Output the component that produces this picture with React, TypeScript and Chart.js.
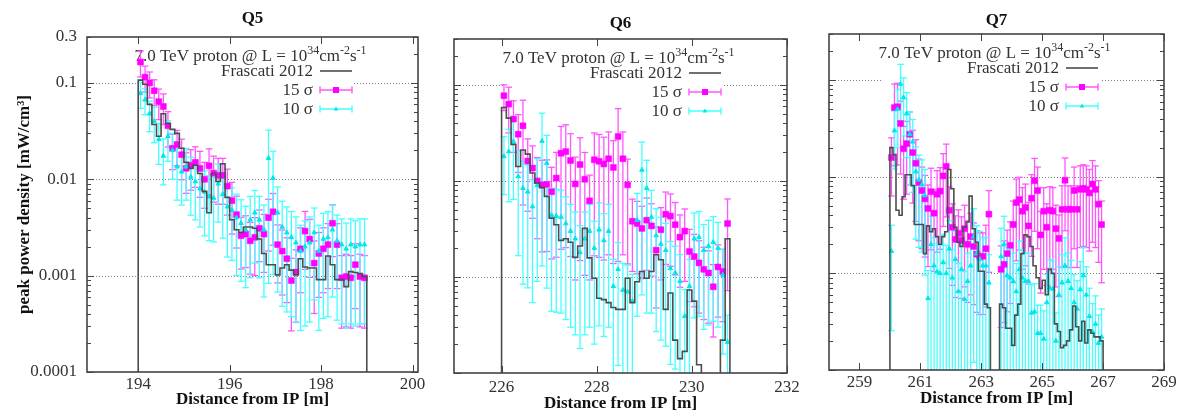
import React, { useEffect, useRef } from "react";
import { Chart, registerables } from "chart.js";

Chart.register(...registerables);

const FONT = '"Liberation Serif", "Times New Roman", serif';
const TEXT_COLOR = "#333";
const FRAME_COLOR = "#444";
const STEP_COLOR = "#4d4d4d";
const MAG = "#ff00ff";
const MAG_BAR = "#ff55ff";
const CYAN = "#00e8e8";
const CYAN_BAR = "#44ffff";
const CANVAS_H = 410;

// ---------- axis ticks ----------
const yTickValues = [0.0001, 0.001, 0.01, 0.1, 0.3];
const yTickLabels = ["0.0001", "0.001", "0.01", "0.1", "0.3"];
const yGridValues = [0.001, 0.01, 0.1];

const q5XTicks = [194, 196, 198, 200];
const q5XTickLabels = ["194", "196", "198", "200"];
const q6XTicks = [226, 228, 230, 232];
const q6XTickLabels = ["226", "228", "230", "232"];
const q7XTicks = [259, 261, 263, 265, 267, 269];
const q7XTickLabels = ["259", "261", "263", "265", "267", "269"];

// ---------- Q5 ----------
const q5Edges = [194.0, 199.0];
const q5X = [194.05, 194.15, 194.25, 194.35, 194.45, 194.55, 194.65, 194.75, 194.85, 194.95, 195.05, 195.15, 195.25, 195.35, 195.45, 195.55, 195.65, 195.75, 195.85, 195.95, 196.05, 196.15, 196.25, 196.35, 196.45, 196.55, 196.65, 196.75, 196.85, 196.95, 197.05, 197.15, 197.25, 197.35, 197.45, 197.55, 197.65, 197.75, 197.85, 197.95, 198.05, 198.15, 198.25, 198.35, 198.45, 198.55, 198.65, 198.75, 198.85, 198.95];
const q5Frascati = [0.107, 0.097, 0.06, 0.037, 0.028, 0.048, 0.038, 0.033, 0.03, 0.021, 0.015, 0.013, 0.014, 0.0115, 0.0075, 0.0045, 0.0115, 0.0095, 0.0145, 0.0065, 0.0038, 0.003, 0.0028, 0.0032, 0.0032, 0.0031, 0.0024, 0.0017, 0.0013, 0.0013, 0.00102, 0.0012, 0.0013, 0.00114, 0.00102, 0.0015, 0.00123, 0.0012, 0.0012, 0.00091, 0.00091, 0.0016, 0.0013, 0.00091, 0.00091, 0.00077, 0.0011, 0.00108, 0.00105, 0.00098];
const q5Sigma15 = [0.165, 0.115, 0.1, 0.083, 0.064, 0.057, 0.036, 0.021, 0.023, 0.018, 0.013, 0.014, 0.015, 0.013, 0.01, 0.0138, 0.0116, 0.011, 0.011, 0.0085, 0.006, 0.0043, 0.0026, 0.0027, 0.0023, 0.0025, 0.0031, 0.0027, 0.004, 0.0046, 0.0021, 0.0018, 0.0015, 0.00089, 0.00109, 0.0019, 0.0029, 0.0024, 0.00135, 0.0017, 0.0019, 0.0021, 0.0035, 0.0021, 0.00095, 0.00098, 0.00095, 0.0013, 0.00098, 0.00095];
const q5Sigma15Err = [0.3, 0.3, 0.3, 0.3, 0.35, 0.35, 0.4, 0.4, 0.4, 0.45, 0.45, 0.45, 0.45, 0.5, 0.5, 0.5, 0.5, 0.5, 0.5, 0.5, 0.55, 0.55, 0.55, 0.55, 0.55, 0.6, 0.55, 0.6, 0.55, 0.55, 0.6, 0.65, 0.65, 0.7, 0.7, 0.65, 0.6, 0.6, 0.7, 0.65, 0.65, 0.65, 0.55, 0.65, 0.7, 0.7, 0.7, 0.65, 0.7, 0.7];
const q5Sigma10 = [0.078, 0.067, 0.048, 0.04, 0.026, 0.0175, 0.028, 0.02, 0.0135, 0.012, 0.0135, 0.0106, 0.0095, 0.008, 0.0074, 0.0066, 0.0064, 0.009, 0.007, 0.0052, 0.0048, 0.004, 0.0035, 0.003, 0.0038, 0.0045, 0.0038, 0.003, 0.0166, 0.0103, 0.0045, 0.0032, 0.0028, 0.0025, 0.0022, 0.0018, 0.002, 0.0022, 0.0028, 0.0018, 0.0024, 0.0025, 0.003, 0.0023, 0.0021, 0.0019, 0.0021, 0.002, 0.0021, 0.0021];
const q5Sigma10Err = [0.3, 0.3, 0.35, 0.4, 0.45, 0.5, 0.45, 0.5, 0.55, 0.55, 0.55, 0.6, 0.6, 0.6, 0.65, 0.65, 0.65, 0.6, 0.65, 0.7, 0.7, 0.75, 0.75, 0.75, 0.75, 0.7, 0.75, 0.8, 0.95, 0.9, 0.85, 0.85, 0.85, 0.85, 0.85, 0.85, 0.85, 0.85, 0.8, 0.85, 0.85, 0.85, 0.8, 0.85, 0.85, 0.85, 0.85, 0.85, 0.85, 0.85];

// ---------- Q6 ----------
const q6Edges = [226.0, 230.8];
const q6X = [226.05, 226.15, 226.25, 226.35, 226.45, 226.55, 226.65, 226.75, 226.85, 226.95, 227.05, 227.15, 227.25, 227.35, 227.45, 227.55, 227.65, 227.75, 227.85, 227.95, 228.05, 228.15, 228.25, 228.35, 228.45, 228.55, 228.65, 228.75, 228.85, 228.95, 229.05, 229.15, 229.25, 229.35, 229.45, 229.55, 229.65, 229.75, 229.85, 229.95, 230.05, 230.15, 230.25, 230.35, 230.45, 230.55, 230.65, 230.75];
const q6Frascati = [0.058, 0.045, 0.024, 0.0141, 0.021, 0.019, 0.0121, 0.0095, 0.0085, 0.0069, 0.0041, 0.0035, 0.0024, 0.0025, 0.0023, 0.0016, 0.0021, 0.0032, 0.00158, 0.00097, 0.0006, 0.00058, 0.00054, 0.00048, 0.00046, 0.00046, 0.00097, 0.00054, 0.00089, 0.00114, 0.00097, 0.00114, 0.0017, 0.00151, 0.00046, 0.00068, 0.00022, 0.000141, 0.000168, 0.00073, 0.00056, 0.000122, 0.00005, 0.00005, 0.00005, 0.00005, 0.00022, 0.0025];
const q6Sigma15 = [0.077, 0.063, 0.044, 0.0306, 0.0374, 0.0161, 0.0136, 0.01, 0.0091, 0.0092, 0.0077, 0.0107, 0.0194, 0.0202, 0.0163, 0.0093, 0.0148, 0.0104, 0.0062, 0.0166, 0.016, 0.015, 0.017, 0.0138, 0.029, 0.017, 0.0091, 0.0038, 0.0036, 0.0032, 0.0039, 0.0034, 0.0019, 0.0031, 0.0045, 0.0043, 0.0035, 0.0026, 0.003, 0.00184, 0.00163, 0.0014, 0.0012, 0.0011, 0.00079, 0.00127, 0.00114, 0.0036];
const q6Sigma15Err = [0.3, 0.5, 0.55, 0.6, 0.85, 0.7, 0.7, 0.75, 0.8, 0.8, 0.8, 0.85, 0.9, 0.9, 0.9, 0.9, 0.9, 0.9, 0.85, 0.9, 0.9, 0.9, 0.9, 0.9, 0.95, 0.9, 0.85, 0.7, 0.7, 0.7, 0.7, 0.7, 0.75, 0.7, 0.7, 0.7, 0.7, 0.7, 0.7, 0.7, 0.7, 0.7, 0.7, 0.7, 0.7, 0.7, 0.7, 0.8];
const q6Sigma10 = [0.018, 0.0202, 0.0257, 0.0111, 0.0084, 0.0077, 0.0054, 0.009, 0.026, 0.0153, 0.0044, 0.0043, 0.0042, 0.0036, 0.003, 0.0025, 0.0018, 0.0025, 0.003, 0.002, 0.0031, 0.0024, 0.003, 0.0008, 0.0012, 0.00073, 0.0007, 0.00056, 0.0039, 0.013, 0.0084, 0.0042, 0.0027, 0.0022, 0.0019, 0.00123, 0.0011, 0.0009, 0.00039, 0.0008, 0.0025, 0.0026, 0.0019, 0.0021, 0.0023, 0.002, 0.00105, 0.00021];
const q6Sigma10Err = [0.6, 0.7, 0.75, 0.85, 0.9, 0.9, 0.9, 0.9, 0.95, 0.95, 0.9, 0.9, 0.9, 0.9, 0.9, 0.9, 0.9, 0.9, 0.9, 0.9, 0.9, 0.9, 0.9, 0.9, 0.9, 0.9, 0.9, 0.9, 0.9, 0.95, 0.95, 0.9, 0.9, 0.9, 0.9, 0.9, 0.9, 0.9, 0.9, 0.9, 0.85, 0.85, 0.85, 0.85, 0.85, 0.85, 0.85, 0.9];

// ---------- Q7 ----------
const q7Edges = [260.0, 267.0];
const q7X = [260.05, 260.15, 260.25, 260.35, 260.45, 260.55, 260.65, 260.75, 260.85, 260.95, 261.05, 261.15, 261.25, 261.35, 261.45, 261.55, 261.65, 261.75, 261.85, 261.95, 262.05, 262.15, 262.25, 262.35, 262.45, 262.55, 262.65, 262.75, 262.85, 262.95, 263.05, 263.15, 263.25, 263.35, 263.45, 263.55, 263.65, 263.75, 263.85, 263.95, 264.05, 264.15, 264.25, 264.35, 264.45, 264.55, 264.65, 264.75, 264.85, 264.95, 265.05, 265.15, 265.25, 265.35, 265.45, 265.55, 265.65, 265.75, 265.85, 265.95, 266.05, 266.15, 266.25, 266.35, 266.45, 266.55, 266.65, 266.75, 266.85, 266.95];
const q7Frascati = [0.02, 0.017, 0.0045, 0.004, 0.0062, 0.0105, 0.0105, 0.0081, 0.0032, 0.0032, 0.0032, 0.0016, 0.0031, 0.0027, 0.0029, 0.0024, 0.002, 0.0024, 0.0027, 0.0119, 0.0075, 0.003, 0.0021, 0.0019, 0.003, 0.0034, 0.0063, 0.0029, 0.0021, 0.00105, 0.00105, 0.00048, 0.00044, 0.00005, 0.00005, 0.00005, 0.00048, 0.00044, 0.00027, 0.00027, 0.00018, 0.00037, 0.00048, 0.0016, 0.0025, 0.0024, 0.0019, 0.0012, 0.0009, 0.0007, 0.00085, 0.0006, 0.0011, 0.001, 0.0003, 0.00025, 0.00017, 0.00018, 0.0002, 0.00026, 0.00046, 0.00028, 0.0002, 0.00032, 0.00019, 0.00026, 0.00024, 0.00022, 0.00022, 0.0002];
const q7Sigma15 = [0.0158, 0.052, 0.053, 0.0356, 0.0195, 0.022, 0.0275, 0.0178, 0.0138, 0.0087, 0.0072, 0.0059, 0.0047, 0.007, 0.0042, 0.0066, 0.0071, 0.0102, 0.0128, 0.0045, 0.003, 0.00225, 0.0026, 0.0022, 0.0029, 0.002, 0.0024, 0.0019, 0.00158, 0.0015, 0.0015, 0.0018, 0.0041, null, null, null, 0.0011, 0.00124, 0.0016, 0.00195, 0.0032, 0.0054, 0.0058, 0.0044, 0.0048, 0.0031, 0.006, 0.0091, 0.0072, 0.0025, 0.0044, 0.003, 0.0045, 0.0044, 0.0029, 0.0023, 0.0046, 0.0092, 0.0046, 0.0046, 0.0072, 0.0046, 0.0074, 0.0076, 0.0074, 0.0068, 0.0084, 0.0074, 0.0052, 0.0032];
const q7Sigma15Err = [0.6, 0.75, 0.75, 0.7, 0.7, 0.7, 0.7, 0.7, 0.75, 0.75, 0.75, 0.75, 0.75, 0.75, 0.75, 0.75, 0.75, 0.7, 0.7, 0.75, 0.75, 0.75, 0.75, 0.75, 0.75, 0.75, 0.75, 0.75, 0.75, 0.75, 0.75, 0.75, 0.75, 0.75, 0.75, 0.75, 0.75, 0.75, 0.75, 0.75, 0.75, 0.75, 0.7, 0.75, 0.75, 0.75, 0.75, 0.7, 0.75, 0.75, 0.75, 0.75, 0.75, 0.75, 0.75, 0.75, 0.75, 0.7, 0.75, 0.75, 0.75, 0.75, 0.75, 0.75, 0.75, 0.75, 0.75, 0.75, 0.75, 0.75];
const q7Sigma10 = [0.0017, 0.03, 0.05, 0.091, 0.066, 0.045, 0.0275, 0.023, 0.0113, 0.0093, 0.0083, 0.0064, 0.00055, 0.002, 0.0012, 0.00104, 0.001, 0.0013, 0.001, 0.0018, 0.0009, 0.0014, 0.00065, 0.0011, 0.00054, 0.00083, 0.0012, 0.0024, 0.0016, 0.0014, 0.0012, 0.0012, 0.0008, null, null, null, 0.0015, 0.002, 0.00095, 0.0009, 0.00083, 0.00065, 0.0011, 0.0009, 0.00083, 0.00083, 0.00039, 0.0004, 0.00024, 0.00024, 0.00021, 0.0005, 0.00071, 0.00069, 0.0002, 0.0006, 0.0008, 0.0012, 0.00083, 0.0007, 0.0005, 0.00043, 0.00068, 0.00095, 0.0006, 0.00036, 0.00025, 0.0003, 0.00019, 0.00022];
const q7Sigma10Err = [0.85, 0.6, 0.6, 0.6, 0.6, 0.65, 0.7, 0.7, 0.8, 0.8, 0.8, 0.85, 0.95, 0.95, 0.95, 0.95, 0.95, 0.95, 0.95, 0.95, 0.95, 0.95, 0.95, 0.95, 0.95, 0.95, 0.95, 0.95, 0.95, 0.95, 0.95, 0.95, 0.95, 0.95, 0.95, 0.95, 0.95, 0.95, 0.95, 0.95, 0.95, 0.95, 0.95, 0.95, 0.95, 0.95, 0.95, 0.95, 0.95, 0.95, 0.95, 0.95, 0.95, 0.95, 0.95, 0.95, 0.95, 0.95, 0.95, 0.95, 0.95, 0.95, 0.95, 0.95, 0.95, 0.95, 0.95, 0.95, 0.95, 0.95];

// ---------- panel layout (page coordinates) ----------
type PanelCfg = {
  title: string;
  titleY: number;
  canvasL: number;
  canvasW: number;
  area: { l: number; t: number; r: number; b: number };
  xMin: number;
  xMax: number;
  xTicks: number[];
  xTickLabels: string[];
  xLabelPad: number;
  xTitleLH: number;
  showY: boolean;
  edges: number[];
  xs: number[];
  frascati: number[];
  s15: (number | null)[];
  s15Err: number[];
  s10: (number | null)[];
  s10Err: number[];
};

const panels: PanelCfg[] = [
  {
    title: "Q5", titleY: 19, canvasL: 0, canvasW: 440,
    area: { l: 87, t: 37, r: 418, b: 372 },
    xMin: 192.88, xMax: 200.12, xTicks: q5XTicks, xTickLabels: q5XTickLabels, xLabelPad: 2, xTitleLH: 1.2,
    showY: true, edges: q5Edges, xs: q5X, frascati: q5Frascati,
    s15: q5Sigma15, s15Err: q5Sigma15Err, s10: q5Sigma10, s10Err: q5Sigma10Err,
  },
  {
    title: "Q6", titleY: 24, canvasL: 430, canvasW: 380,
    area: { l: 454, t: 39, r: 787, b: 373 },
    xMin: 225, xMax: 232, xTicks: q6XTicks, xTickLabels: q6XTickLabels, xLabelPad: 4, xTitleLH: 0.7,
    showY: false, edges: q6Edges, xs: q6X, frascati: q6Frascati,
    s15: q6Sigma15, s15Err: q6Sigma15Err, s10: q6Sigma10, s10Err: q6Sigma10Err,
  },
  {
    title: "Q7", titleY: 21, canvasL: 800, canvasW: 387,
    area: { l: 829, t: 34, r: 1164, b: 370 },
    xMin: 258, xMax: 269, xTicks: q7XTicks, xTickLabels: q7XTickLabels, xLabelPad: 2, xTitleLH: 1.3,
    showY: false, edges: q7Edges, xs: q7X, frascati: q7Frascati,
    s15: q7Sigma15, s15Err: q7Sigma15Err, s10: q7Sigma10, s10Err: q7Sigma10Err,
  },
];

const TINY = 1e-8;

function stepPoints(edges: number[], xs: number[], ys: number[]) {
  const pts: { x: number; y: number }[] = [];
  pts.push({ x: edges[0], y: TINY }, { x: edges[0], y: ys[0] });
  xs.forEach((x, i) => pts.push({ x, y: ys[i] }));
  pts.push({ x: edges[1], y: ys[ys.length - 1] }, { x: edges[1], y: TINY });
  return pts;
}

function markerPoints(xs: number[], ys: (number | null)[]) {
  const pts: { x: number; y: number }[] = [];
  xs.forEach((x, i) => {
    const v = ys[i];
    if (v != null) pts.push({ x, y: v });
  });
  return pts;
}

function errorBarPoints(xs: number[], ys: (number | null)[], rel: number[]) {
  const pts: { x: number; y: number | null }[] = [];
  xs.forEach((x, i) => {
    const v = ys[i];
    if (v == null) return;
    const d = v * rel[i];
    pts.push({ x, y: v - d > 0 ? v - d : TINY }, { x, y: v + d }, { x, y: null });
  });
  return pts;
}

function drawSup(ctx: CanvasRenderingContext2D, pieces: [string, boolean][], cx: number, baseY: number) {
  const normal = `17px ${FONT}`;
  const small = `12px ${FONT}`;
  let total = 0;
  for (const [s, sup] of pieces) {
    ctx.font = sup ? small : normal;
    total += ctx.measureText(s).width;
  }
  let x = cx - total / 2;
  ctx.textAlign = "left";
  ctx.textBaseline = "alphabetic";
  for (const [s, sup] of pieces) {
    ctx.font = sup ? small : normal;
    ctx.fillText(s, x, sup ? baseY - 7 : baseY);
    x += ctx.measureText(s).width;
  }
}

const keyTitle: [string, boolean][] = [
  ["7.0 TeV proton @ L = 10", false],
  ["34", true],
  ["cm", false],
  ["-2", true],
  ["s", false],
  ["-1", true],
];

function makeDecor(cfg: PanelCfg) {
  return {
    id: "panelDecor",
    beforeDatasetsDraw(chart: any) {
      const { ctx, chartArea: a, scales } = chart;
      const y = scales.y;
      ctx.save();
      ctx.strokeStyle = "#808080";
      ctx.lineWidth = 1;
      ctx.setLineDash([1, 2]);
      for (const v of yGridValues) {
        const py = Math.round(y.getPixelForValue(v)) + 0.5;
        ctx.beginPath();
        ctx.moveTo(a.left, py);
        ctx.lineTo(a.right, py);
        ctx.stroke();
      }
      ctx.setLineDash([]);
      ctx.fillStyle = "#fff";
      ctx.fillRect(a.right - 282, a.top + 5, 218, 77);
      ctx.fillStyle = TEXT_COLOR;
      drawSup(ctx, keyTitle, (a.left + a.right) / 2 - 2, a.top + 24);
      const tx = a.right - 105;
      const s0 = a.right - 98;
      const s1 = a.right - 66;
      const sm = (s0 + s1) / 2;
      const rows = [a.top + 34, a.top + 53, a.top + 72];
      ctx.font = `17px ${FONT}`;
      ctx.textAlign = "right";
      ctx.textBaseline = "middle";
      ctx.fillText("Frascati 2012", tx, rows[0] + 1);
      ctx.fillText("15 \u03C3", tx, rows[1] + 1);
      ctx.fillText("10 \u03C3", tx, rows[2] + 1);
      ctx.strokeStyle = STEP_COLOR;
      ctx.lineWidth = 1.6;
      ctx.beginPath();
      ctx.moveTo(s0, rows[0]);
      ctx.lineTo(s1, rows[0]);
      ctx.stroke();
      const errSample = (yy: number, col: string) => {
        ctx.strokeStyle = col;
        ctx.lineWidth = 1.4;
        ctx.beginPath();
        ctx.moveTo(s0, yy);
        ctx.lineTo(s1, yy);
        ctx.moveTo(s0, yy - 3.5);
        ctx.lineTo(s0, yy + 3.5);
        ctx.moveTo(s1, yy - 3.5);
        ctx.lineTo(s1, yy + 3.5);
        ctx.stroke();
      };
      errSample(rows[1], MAG_BAR);
      ctx.fillStyle = MAG;
      ctx.fillRect(sm - 3, rows[1] - 3, 6, 6);
      errSample(rows[2], CYAN_BAR);
      ctx.fillStyle = CYAN;
      ctx.beginPath();
      ctx.moveTo(sm, rows[2] - 2.6);
      ctx.lineTo(sm + 2.4, rows[2] + 1.6);
      ctx.lineTo(sm - 2.4, rows[2] + 1.6);
      ctx.closePath();
      ctx.fill();
      ctx.restore();
    },
    afterDatasetsDraw(chart: any) {
      const { ctx, chartArea: a, scales } = chart;
      const x = scales.x;
      const y = scales.y;
      ctx.save();
      ctx.strokeStyle = FRAME_COLOR;
      ctx.lineWidth = 1;
      ctx.beginPath();
      for (let d = -4; d <= -1; d++) {
        for (let m = 1; m <= 9; m++) {
          const v = m * Math.pow(10, d);
          if (v > 0.3 + 1e-9) continue;
          const py = Math.round(y.getPixelForValue(v)) + 0.5;
          const len = m === 1 ? 7 : 4;
          ctx.moveTo(a.left, py);
          ctx.lineTo(a.left + len, py);
          ctx.moveTo(a.right, py);
          ctx.lineTo(a.right - len, py);
        }
      }
      for (const v of cfg.xTicks) {
        const px = Math.round(x.getPixelForValue(v)) + 0.5;
        ctx.moveTo(px, a.bottom);
        ctx.lineTo(px, a.bottom - 7);
        ctx.moveTo(px, a.top);
        ctx.lineTo(px, a.top + 7);
      }
      ctx.stroke();
      ctx.lineWidth = 1.6;
      ctx.strokeRect(a.left, a.top, a.right - a.left, a.bottom - a.top);
      ctx.restore();
    },
    afterDraw(chart: any) {
      const { ctx, chartArea: a } = chart;
      ctx.save();
      ctx.font = `bold 17px ${FONT}`;
      ctx.fillStyle = "#111";
      ctx.textAlign = "center";
      ctx.textBaseline = "middle";
      ctx.fillText(cfg.title, (a.left + a.right) / 2, cfg.titleY);
      ctx.restore();
    },
  };
}

function buildConfig(cfg: PanelCfg): any {
  const { area } = cfg;
  const yAxisW = area.l - cfg.canvasL;
  const padRight = cfg.canvasL + cfg.canvasW - area.r;
  const xAxisH = CANVAS_H - area.b;
  return {
    type: "line",
    data: {
      datasets: [
        {
          label: "Frascati 2012",
          data: stepPoints(cfg.edges, cfg.xs, cfg.frascati),
          stepped: "middle",
          borderColor: STEP_COLOR,
          borderWidth: 1.6,
          pointRadius: 0,
          fill: false,
          order: 0,
          clip: 0,
        },
        {
          label: "10 \u03C3",
          data: markerPoints(cfg.xs, cfg.s10),
          showLine: false,
          pointStyle: "triangle",
          pointRadius: 2.6,
          pointBackgroundColor: CYAN,
          pointBorderColor: CYAN,
          pointBorderWidth: 1,
          order: 1,
        },
        {
          label: "15 \u03C3",
          data: markerPoints(cfg.xs, cfg.s15),
          showLine: false,
          pointStyle: "rect",
          pointRadius: 4.2,
          pointBackgroundColor: MAG,
          pointBorderColor: MAG,
          pointBorderWidth: 0.5,
          order: 2,
        },
        {
          label: "10 \u03C3 error",
          data: errorBarPoints(cfg.xs, cfg.s10, cfg.s10Err),
          showLine: true,
          spanGaps: false,
          borderColor: CYAN_BAR,
          borderWidth: 1.3,
          pointStyle: "line",
          pointRadius: 3.3,
          pointBorderColor: CYAN_BAR,
          pointBorderWidth: 1.3,
          order: 3,
          clip: 0,
        },
        {
          label: "15 \u03C3 error",
          data: errorBarPoints(cfg.xs, cfg.s15, cfg.s15Err),
          showLine: true,
          spanGaps: false,
          borderColor: MAG_BAR,
          borderWidth: 1.3,
          pointStyle: "line",
          pointRadius: 3.3,
          pointBorderColor: MAG_BAR,
          pointBorderWidth: 1.3,
          order: 4,
          clip: 0,
        },
      ],
    },
    options: {
      responsive: false,
      maintainAspectRatio: false,
      animation: false,
      events: [],
      layout: { padding: { left: 0, top: area.t, right: padRight, bottom: 0 } },
      plugins: { legend: { display: false }, tooltip: { enabled: false }, title: { display: false } },
      scales: {
        x: {
          type: "linear",
          position: "bottom",
          min: cfg.xMin,
          max: cfg.xMax,
          afterBuildTicks: (s: any) => {
            s.ticks = cfg.xTicks.map((v) => ({ value: v }));
          },
          afterFit: (s: any) => {
            s.height = xAxisH;
          },
          grid: { display: false, drawTicks: false },
          border: { display: false },
          ticks: {
            autoSkip: false,
            maxRotation: 0,
            padding: cfg.xLabelPad,
            color: TEXT_COLOR,
            font: { family: FONT, size: 17 },
            callback: (_v: any, i: number) => cfg.xTickLabels[i],
          },
          title: {
            display: true,
            text: "Distance from IP [m]",
            color: "#111",
            padding: 0,
            font: { family: FONT, size: 17, weight: "bold", lineHeight: cfg.xTitleLH },
          },
        },
        y: {
          type: "logarithmic",
          position: "left",
          min: 0.0001,
          max: 0.3,
          afterBuildTicks: (s: any) => {
            s.ticks = yTickValues.map((v) => ({ value: v }));
          },
          afterFit: (s: any) => {
            s.width = yAxisW;
          },
          grid: { display: false, drawTicks: false },
          border: { display: false },
          ticks: {
            display: cfg.showY,
            padding: 10,
            color: TEXT_COLOR,
            font: { family: FONT, size: 17 },
            callback: (_v: any, i: number) => yTickLabels[i],
          },
          title: {
            display: cfg.showY,
            text: "peak power density [mW/cm\u00B3]",
            color: "#111",
            padding: { top: 14, bottom: 0 },
            font: { family: FONT, size: 17, weight: "bold" },
          },
        },
      },
    },
    plugins: [makeDecor(cfg)],
  };
}

function Panel({ cfg }: { cfg: PanelCfg }) {
  const ref = useRef<HTMLCanvasElement>(null);
  useEffect(() => {
    const canvas = ref.current;
    if (!canvas) return;
    const chart = new Chart(canvas, buildConfig(cfg));
    return () => chart.destroy();
  }, [cfg]);
  return (
    <canvas
      ref={ref}
      width={cfg.canvasW}
      height={CANVAS_H}
      style={{ position: "absolute", left: cfg.canvasL, top: 0, width: cfg.canvasW, height: CANVAS_H }}
    />
  );
}

export default function App() {
  return (
    <div
      style={{
        position: "fixed",
        left: 0,
        top: 0,
        width: 1187,
        height: 410,
        background: "#fff",
        overflow: "hidden",
      }}
    >
      {panels.map((p) => (
        <Panel key={p.title} cfg={p} />
      ))}
    </div>
  );
}
